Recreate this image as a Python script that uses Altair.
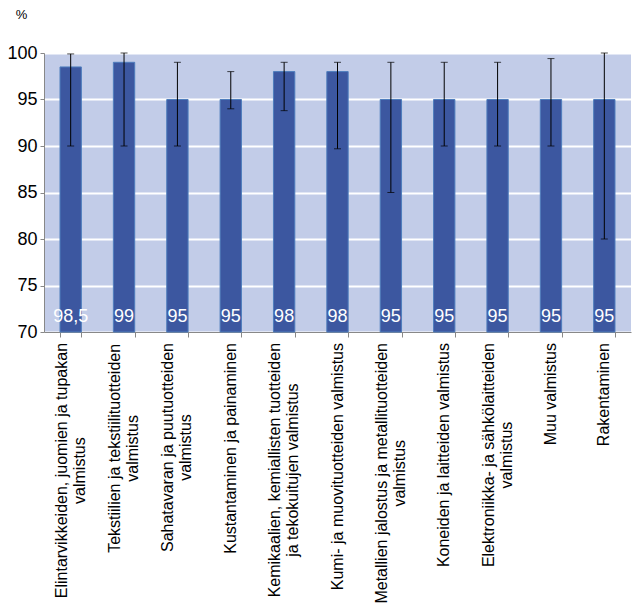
import altair as alt
import pandas as pd

categories = [
    "Elintarvikkeiden, juomien ja tupakan|valmistus",
    "Tekstiilien ja tekstiilituotteiden|valmistus",
    "Sahatavaran ja puutuotteiden|valmistus",
    "Kustantaminen ja painaminen",
    "Kemikaalien, kemiallisten tuotteiden|ja tekokuitujen valmistus",
    "Kumi- ja muovituotteiden valmistus",
    "Metallien jalostus ja metallituotteiden|valmistus",
    "Koneiden ja laitteiden valmistus",
    "Elektroniikka- ja sähkölaitteiden|valmistus",
    "Muu valmistus",
    "Rakentaminen",
]
values = [98.5, 99, 95, 95, 98, 98, 95, 95, 95, 95, 95]
value_labels = ["98,5", "99", "95", "95", "98", "98", "95", "95", "95", "95", "95"]
err_low = [90, 90, 90, 94, 93.8, 89.7, 85, 90, 90, 90, 80]
err_high = [99.9, 100, 99, 98, 99, 99, 99, 99, 99, 99.4, 100]
y_min = 70

FONT = "Liberation Sans"
LABEL_SIZE = 16

# Arial / Liberation Sans advance widths (per 1000 em) for measuring the first label line
_W = {"i": 222, "j": 222, "l": 222, "f": 278, "t": 278, " ": 278, ",": 278,
      "r": 333, "-": 333, "c": 500, "k": 500, "s": 500, "v": 500, "x": 500,
      "y": 500, "z": 500, "m": 833, "w": 722, "E": 667, "K": 667, "S": 667,
      "M": 833, "T": 611, "R": 722}


def first_line_width(s):
    line = s.split("|")[0]
    return sum(_W.get(ch, 556) for ch in line) * LABEL_SIZE / 1000.0


df = pd.DataFrame({
    "cat": categories,
    "value": values,
    "label": value_labels,
    "lo": err_low,
    "hi": err_high,
    "base": [y_min] * len(categories),
    "w1": [first_line_width(c) for c in categories],
})

x = alt.X(
    "cat:N",
    sort=categories,
    scale=alt.Scale(paddingInner=0.6, paddingOuter=0.3),
    axis=alt.Axis(
        title=None,
        labels=False,
        tickBand="extent",
        tickSize=5,
        tickColor="#888888",
        domainColor="#888888",
        grid=False,
    ),
)
x_plain = alt.X("cat:N", sort=categories)

y_scale = alt.Scale(domain=[70, 100], nice=False, zero=False)

bars = alt.Chart(df).mark_bar(
    color="#3C57A0", stroke="#4F7EBD", strokeWidth=1
).encode(
    x=x,
    y=alt.Y(
        "value:Q",
        scale=y_scale,
        axis=alt.Axis(
            title="%",
            titleAngle=0,
            titleX=-23,
            titleY=-39,
            titleAlign="center",
            titleBaseline="middle",
            titleFont=FONT,
            titleFontSize=13,
            titleFontWeight="normal",
            values=[70, 75, 80, 85, 90, 95, 100],
            labelFontSize=18,
            labelFont=FONT,
            labelColor="#000000",
            labelPadding=3,
            tickSize=4,
            tickColor="#888888",
            domainColor="#888888",
            gridColor="#FFFFFF",
            gridWidth=2,
        ),
    ),
    y2="base:Q",
)

rules = alt.Chart(df).mark_rule(color="#000000", strokeWidth=1).encode(
    x=x_plain,
    y=alt.Y("lo:Q", scale=y_scale),
    y2="hi:Q",
)

caps_lo = alt.Chart(df).mark_tick(color="#000000", thickness=1, size=7, orient="horizontal").encode(
    x=x_plain,
    y=alt.Y("lo:Q", scale=y_scale),
)
caps_hi = alt.Chart(df).mark_tick(color="#000000", thickness=1, size=7, orient="horizontal").encode(
    x=x_plain,
    y=alt.Y("hi:Q", scale=y_scale),
)

texts = alt.Chart(df).mark_text(
    color="#FFFFFF", font=FONT, fontSize=18, baseline="alphabetic", dy=-10
).encode(
    x=x_plain,
    y=alt.Y("base:Q", scale=y_scale),
    text="label:N",
)

cat_labels = alt.Chart(df).mark_text(
    color="#000000",
    font=FONT,
    fontSize=LABEL_SIZE,
    lineHeight=18,
    lineBreak="|",
    angle=270,
    align="center",
    baseline="middle",
    dx=alt.ExprRef(expr="-(11 + datum.w1 / 2)"),
    dy=alt.ExprRef(expr="indexof(datum.cat, '|') >= 0 ? -9 : 0"),
).encode(
    x=x_plain,
    y=alt.Y("base:Q", scale=y_scale),
    text="cat:N",
)

chart = alt.layer(bars, rules, caps_lo, caps_hi, texts, cat_labels).properties(
    width=587,
    height=279,
    autosize=alt.AutoSizeParams(type="none"),
    padding={"left": 44, "top": 53, "right": 9, "bottom": 271},
    background="#FFFFFF",
).configure_view(
    fill="#C2CCE8", strokeWidth=0
)

chart.save("out.html", embed_options={"renderer": "svg", "actions": False})
